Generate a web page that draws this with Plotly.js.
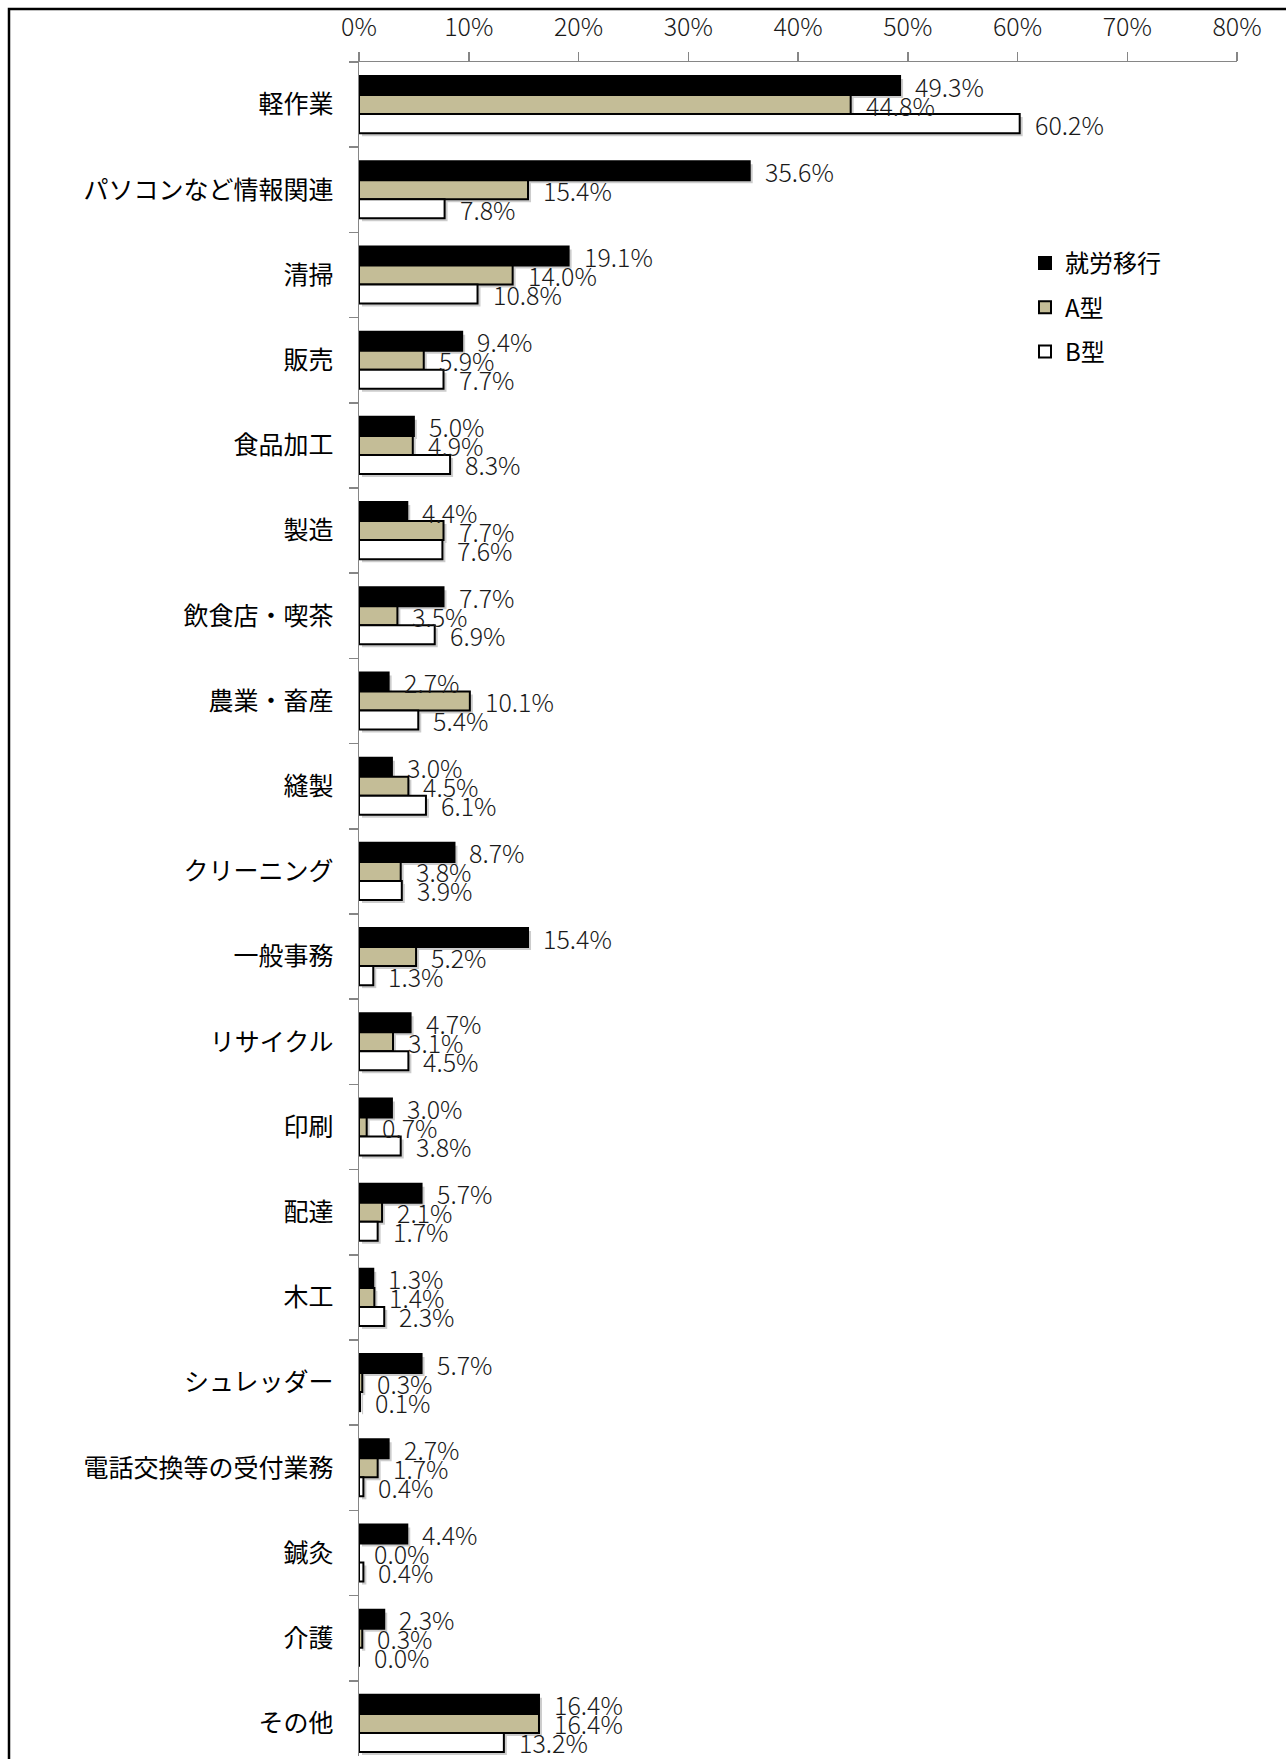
<!DOCTYPE html>
<html>
<head>
<meta charset="utf-8">
<script src="https://cdn.plot.ly/plotly-3.0.1.min.js"></script>
<style>
html,body{margin:0;padding:0;background:#fff;}
#chart{width:1286px;height:1759px;}
</style>
</head>
<body>
<div id="chart"></div>
<script>
// ---- data ----
const categories = ['軽作業','パソコンなど情報関連','清掃','販売','食品加工','製造','飲食店・喫茶','農業・畜産','縫製','クリーニング','一般事務','リサイクル','印刷','配達','木工','シュレッダー','電話交換等の受付業務','鍼灸','介護','その他'];
const seriesNames = ['就労移行','A型','B型'];
const shuroIko = [49.3,35.6,19.1,9.4,5.0,4.4,7.7,2.7,3.0,8.7,15.4,4.7,3.0,5.7,1.3,5.7,2.7,4.4,2.3,16.4];
const typeA    = [44.8,15.4,14.0,5.9,4.9,7.7,3.5,10.1,4.5,3.8,5.2,3.1,0.7,2.1,1.4,0.3,1.7,0.0,0.3,16.4];
const typeB    = [60.2,7.8,10.8,7.7,8.3,7.6,6.9,5.4,6.1,3.9,1.3,4.5,3.8,1.7,2.3,0.1,0.4,0.4,0.0,13.2];
const tickValues = [0,10,20,30,40,50,60,70,80];
const tickLabels = ['0%','10%','20%','30%','40%','50%','60%','70%','80%'];

// ---- layout constants ----
const W = 1286, H = 1759;
const mL = 359, mR = 46, mT = 62, mB = 0;
const totW = W - mL - mR, totH = H - mT - mB;
const off = 3;                       // shadow offset (px)
const slotPx = 85.2;
const span = (totH - off) / slotPx;
const bargap = 0.33;
const barPx = slotPx * (1 - bargap) / 3;

const fills = ['#000000', '#C4BD97', '#FFFFFF'];
const seriesValues = [shuroIko, typeA, typeB];

// soft drop shadows (drawn on an offset copy of the axes)
const shadowTraces = seriesValues.map((vals, i) => ({
  type: 'bar', orientation: 'h', name: seriesNames[i] + ' shadow',
  y: categories, x: vals, xaxis: 'x', yaxis: 'y',
  marker: {color: 'rgba(0,0,0,0.2)', line: {width: 0}},
  hoverinfo: 'skip', showlegend: false
}));

const traces = seriesValues.map((vals, i) => ({
  type: 'bar', orientation: 'h', name: seriesNames[i],
  y: categories, x: vals, xaxis: 'x2', yaxis: 'y2',
  marker: {color: fills[i], line: {color: '#000000', width: 2}},
  hoverinfo: 'skip', legendgroup: 'g' + i
}));

const numFont = {family: 'Noto Sans CJK JP', size: 25, weight: 300, color: '#1a1a1a'};
const annotations = [];
seriesValues.forEach((vals, i) => {
  const ys = [barPx, 0, -barPx][i];
  vals.forEach((v, j) => {
    annotations.push({
      x: v, y: categories[j], xref: 'x2', yref: 'y2',
      text: v.toFixed(1) + '%',
      showarrow: false, xanchor: 'left', yanchor: 'middle',
      xshift: 13, yshift: ys, font: numFont
    });
  });
});

function px2paperX(px){ return (px - mL) / totW; }
function px2paperY(py){ return 1 - (py - mT) / totH; }

const hiddenAxis = {visible: false, showgrid: false, zeroline: false, fixedrange: true};

const layout = {
  width: W, height: H,
  margin: {l: mL, r: mR, t: mT, b: mB, pad: 0},
  paper_bgcolor: '#ffffff', plot_bgcolor: 'rgba(0,0,0,0)',
  barmode: 'group', bargap: bargap, bargroupgap: 0,
  showlegend: true,
  legend: {
    x: px2paperX(1025), y: px2paperY(241), xanchor: 'left', yanchor: 'top',
    font: {family: 'Noto Sans CJK JP', size: 24, color: '#000'},
    bgcolor: 'rgba(0,0,0,0)', tracegroupgap: 10, traceorder: 'grouped'
  },
  // shadow axes
  xaxis: Object.assign({}, hiddenAxis, {domain: [off / totW, 1], range: [0, 80], anchor: 'y'}),
  yaxis: Object.assign({}, hiddenAxis, {domain: [0, 1 - off / totH], type: 'category', range: [span - 0.5, -0.5], anchor: 'x'}),
  // visible axes
  xaxis2: {
    domain: [0, 1 - off / totW], anchor: 'y2',
    side: 'top', range: [0, 80], tickmode: 'array', tickvals: tickValues, ticktext: tickLabels,
    ticks: 'outside', ticklen: 9, tickwidth: 1.5, tickcolor: '#868686',
    showline: true, linecolor: '#868686', linewidth: 1.5,
    showgrid: false, zeroline: false, fixedrange: true,
    tickfont: {family: 'Noto Sans CJK JP', size: 25, weight: 300, color: '#1a1a1a'},
    ticklabelstandoff: 6, automargin: false
  },
  yaxis2: {
    domain: [off / totH, 1], anchor: 'x2',
    type: 'category', range: [span - 0.5, -0.5],
    tickson: 'boundaries', ticks: 'outside', ticklen: 9, tickwidth: 1.5, tickcolor: '#868686',
    showline: true, linecolor: '#868686', linewidth: 1.5,
    showgrid: false, zeroline: false, fixedrange: true,
    tickfont: {family: 'Noto Sans CJK JP', size: 25, color: '#000'},
    ticklabelstandoff: 19, automargin: false
  },
  shapes: [{
    type: 'rect', xref: 'paper', yref: 'paper',
    x0: px2paperX(9), x1: px2paperX(W + 20), y0: px2paperY(H + 20), y1: px2paperY(9),
    line: {color: '#000000', width: 2.5}, fillcolor: 'rgba(0,0,0,0)', layer: 'above'
  }],
  annotations: annotations
};

Plotly.newPlot('chart', shadowTraces.concat(traces), layout, {staticPlot: true, displayModeBar: false});
</script>
</body>
</html>
